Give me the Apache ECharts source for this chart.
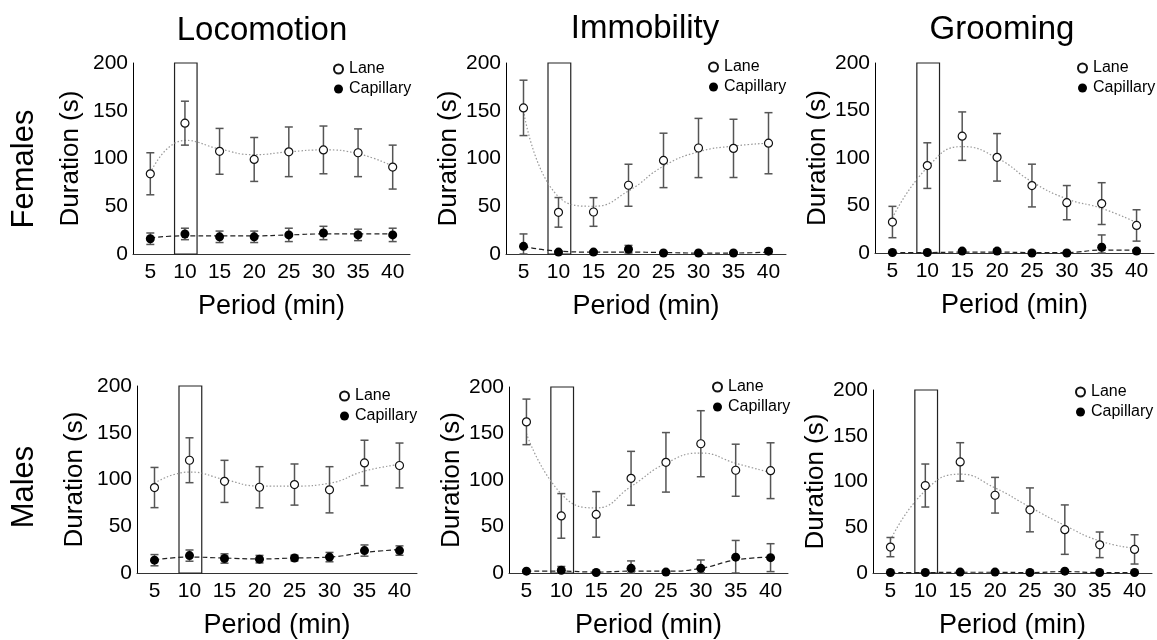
<!DOCTYPE html>
<html>
<head>
<meta charset="utf-8">
<script src="https://cdn.jsdelivr.net/npm/echarts@6/dist/echarts.min.js"></script>
<style>
html,body{margin:0;padding:0;background:#fff;}
#chart{width:1157px;height:640px;}
</style>
</head>
<body>
<div id="chart"></div>
<script>
// ---------- DATA ----------
const periods = [5, 10, 15, 20, 25, 30, 35, 40];
const xTicks = [5, 10, 15, 20, 25, 30, 35, 40];
const boxRange = [8.5, 11.75];
const panelTitles = ['Locomotion', 'Immobility', 'Grooming'];
const rowLabels = ['Females', 'Males'];

// Females - Locomotion
const fLocLane = [84, 137, 107.5, 99, 107, 109, 106, 91];
const fLocLaneErr = [22, 23, 24, 23, 26, 25, 25, 23];
const fLocLaneFit = [85, 119, 110, 104, 107, 109, 105, 92];
const fLocCap = [16, 21, 18, 18, 20, 22, 20, 20];
const fLocCapErr = [6, 6, 6, 6, 7, 7, 6, 7];
const fLocCapFit = [17, 19, 19, 19, 20, 21, 21, 21];

// Females - Immobility
const fImmLane = [153, 43.6, 44, 72, 98, 111, 110.6, 116];
const fImmLaneErr = [29, 15.5, 15, 22, 28.5, 31, 30.5, 32];
const fImmLaneFit = [150, 60, 50, 66, 92, 107, 113, 116];
const fImmCap = [8, 2, 2, 5, 1, 1, 1, 3];
const fImmCapErr = [13, 1, 1, 4, 1, 1, 1, 2];
const fImmCapFit = [8, 3, 2, 2, 1.5, 1, 1, 2];

// Females - Grooming
const fGroLane = [32.6, 92, 123, 100.7, 71, 53, 52, 29];
const fGroLaneErr = [16.5, 24, 25.5, 25, 22.5, 18, 22, 16.5];
const fGroLaneFit = [37, 90, 112, 100, 75, 57, 47, 32];
const fGroCap = [0.5, 0.5, 2, 2, 0, 0, 6, 2];
const fGroCapErr = [1, 1, 1, 2, 0.5, 0.5, 13, 1];
const fGroCapFit = [0.5, 0.5, 1, 1, 0.5, 0.5, 3, 3];

// Males - Locomotion
const mLocLane = [91.4, 120.6, 98, 91.7, 94.6, 89, 117.7, 115];
const mLocLaneErr = [21.5, 24, 22.5, 22, 22, 24.7, 24.3, 24];
const mLocLaneFit = [96, 108, 100, 93, 93, 96, 109, 116];
const mLocCap = [13.7, 18.6, 15.5, 14.8, 16, 17, 24, 24];
const mLocCapErr = [6, 6, 5, 4, 3, 5, 6, 5];
const mLocCapFit = [14, 17, 16, 15, 16, 17, 22, 25];

// Males - Immobility
const mImmLane = [162.5, 61.4, 63, 101.8, 119, 139, 110.5, 110];
const mImmLaneErr = [24.5, 24, 24.5, 29, 32, 35.5, 28, 30];
const mImmLaneFit = [150, 85, 70, 93, 118, 129, 118, 108];
const mImmCap = [2, 3, 0.5, 5, 1, 5, 17, 16.5];
const mImmCapErr = [1, 4, 0.5, 8, 1, 9, 18, 15];
const mImmCapFit = [2, 2, 1, 2, 2, 5, 14, 17];

// Males - Grooming
const mGroLane = [28.3, 95.6, 121.4, 85, 69, 47.4, 30.8, 25.8];
const mGroLaneErr = [10.5, 23.5, 21, 19.5, 24, 27, 14, 16];
const mGroLaneFit = [36, 90, 108, 93, 72, 52, 35, 27];
const mGroCap = [0.5, 0.5, 1, 1, 0.5, 2, 0.5, 0.5];
const mGroCapErr = [0.5, 0.5, 0.5, 1, 0.5, 1, 0.5, 0.5];
const mGroCapFit = [0.5, 0.5, 0.8, 0.8, 0.5, 1.5, 0.5, 0.5];

// ---------- LAYOUT ----------
const FONT = '"Liberation Sans", Arial, sans-serif';
const panels = [
  {grid:{left:133, top:63, width:277, height:191}, nameGap:49, legend:{left:328, top:56},
   d:[fLocLane,fLocLaneErr,fLocLaneFit,fLocCap,fLocCapErr,fLocCapFit]},
  {grid:{left:506, top:63, width:280, height:191}, nameGap:43, legend:{left:703, top:54},
   d:[fImmLane,fImmLaneErr,fImmLaneFit,fImmCap,fImmCapErr,fImmCapFit]},
  {grid:{left:875, top:63, width:279, height:190}, nameGap:43, legend:{left:1072, top:55},
   d:[fGroLane,fGroLaneErr,fGroLaneFit,fGroCap,fGroCapErr,fGroCapFit]},
  {grid:{left:137, top:386, width:280, height:189}, nameGap:49, legend:{left:334, top:383},
   d:[mLocLane,mLocLaneErr,mLocLaneFit,mLocCap,mLocCapErr,mLocCapFit]},
  {grid:{left:509, top:387, width:279, height:190}, nameGap:43, legend:{left:707, top:374},
   d:[mImmLane,mImmLaneErr,mImmLaneFit,mImmCap,mImmCapErr,mImmCapFit]},
  {grid:{left:873, top:390, width:279, height:188}, nameGap:42, legend:{left:1070, top:379},
   d:[mGroLane,mGroLaneErr,mGroLaneFit,mGroCap,mGroCapErr,mGroCapFit]}
];

function errRender(params, api) {
  const x = api.value(0), lo = api.value(1), hi = api.value(2);
  const pLo = api.coord([x, lo]), pHi = api.coord([x, hi]);
  const w = 4;
  const st = {stroke: '#555', lineWidth: 1.5};
  return {type:'group', children:[
    {type:'line', shape:{x1:pLo[0], y1:pLo[1], x2:pHi[0], y2:pHi[1]}, style:st},
    {type:'line', shape:{x1:pLo[0]-w, y1:pLo[1], x2:pLo[0]+w, y2:pLo[1]}, style:st},
    {type:'line', shape:{x1:pHi[0]-w, y1:pHi[1], x2:pHi[0]+w, y2:pHi[1]}, style:st}
  ]};
}

const grid = [], xAxis = [], yAxis = [], series = [], legend = [];
panels.forEach((p, i) => {
  grid.push(p.grid);
  xAxis.push({
    type:'value', gridIndex:i, min:2.5, max:42.5,
    name:'Period (min)', nameLocation:'middle', nameGap:39,
    nameTextStyle:{fontFamily:FONT, fontSize:27, color:'#000'},
    axisLine:{show:true, onZero:false, lineStyle:{color:'#333', width:1}},
    axisTick:{show:false}, splitLine:{show:false},
    axisLabel:{customValues:xTicks, fontFamily:FONT, fontSize:21, color:'#000', margin:8}
  });
  yAxis.push({
    type:'value', gridIndex:i, min:0, max:200, interval:50,
    name:'Duration (s)', nameLocation:'middle', nameGap:p.nameGap,
    nameTextStyle:{fontFamily:FONT, fontSize:26, color:'#000'},
    axisLine:{show:true, lineStyle:{color:'#000', width:1}},
    axisTick:{show:false}, splitLine:{show:false},
    axisLabel:{fontFamily:FONT, fontSize:21, color:'#000', margin:5}
  });
  const [lane, laneErr, laneFit, cap, capErr, capFit] = p.d;
  series.push({
    type:'line', xAxisIndex:i, yAxisIndex:i, smooth:0.5, symbol:'none', silent:true,
    data: periods.map((x,k)=>[x, laneFit[k]]),
    lineStyle:{color:'#999', width:1.2, type:[1.5,2]}, z:1,
    markArea:{silent:true, itemStyle:{color:'rgba(0,0,0,0)', borderColor:'#222', borderWidth:1.2},
      data:[[{xAxis:boxRange[0], yAxis:0},{xAxis:boxRange[1], yAxis:200}]]}
  });
  series.push({
    type:'line', xAxisIndex:i, yAxisIndex:i, smooth:0.5, symbol:'none', silent:true,
    data: periods.map((x,k)=>[x, capFit[k]]),
    lineStyle:{color:'#222', width:1.2, type:[5,3]}, z:1
  });
  series.push({
    type:'custom', xAxisIndex:i, yAxisIndex:i, renderItem:errRender, silent:true, z:2,
    data: periods.map((x,k)=>[x, Math.max(0, lane[k]-laneErr[k]), lane[k]+laneErr[k]])
  });
  series.push({
    type:'custom', xAxisIndex:i, yAxisIndex:i, renderItem:errRender, silent:true, z:2,
    data: periods.map((x,k)=>[x, Math.max(0, cap[k]-capErr[k]), cap[k]+capErr[k]])
  });
  series.push({
    name:'Lane', type:'scatter', xAxisIndex:i, yAxisIndex:i, symbol:'circle', symbolSize:8, z:3,
    itemStyle:{color:'#fff', borderColor:'#111', borderWidth:1.2, opacity:1},
    data: periods.map((x,k)=>[x, lane[k]])
  });
  series.push({
    name:'Capillary', type:'scatter', xAxisIndex:i, yAxisIndex:i, symbol:'circle', symbolSize:9, z:3,
    itemStyle:{color:'#000', opacity:1},
    data: periods.map((x,k)=>[x, cap[k]])
  });
  legend.push({
    left:p.legend.left, top:p.legend.top, orient:'vertical', itemGap:4,
    itemWidth:9, itemHeight:9, icon:'circle', selectedMode:false,
    textStyle:{fontFamily:FONT, fontSize:16, color:'#000', padding:[0,0,0,1]},
    data:['Lane','Capillary']
  });
});

const titleCenters = [[257, 9], [640, 7], [997, 8]];
const title = panelTitles.map((t, j) => ({
  text:t, left:titleCenters[j][0], top:titleCenters[j][1], textAlign:'center',
  textStyle:{fontFamily:FONT, fontSize:33, fontWeight:'normal', color:'#000'}
}));

const rowCenters = [[24, 169], [24, 487]];
const graphic = rowLabels.map((t, r) => ({
  type:'text', x:rowCenters[r][0], y:rowCenters[r][1], rotation:Math.PI/2,
  style:{text:t, font:'31px ' + FONT, fill:'#000', align:'center', verticalAlign:'middle'}
}));

const chart = echarts.init(document.getElementById('chart'));
chart.setOption({
  animation:false, backgroundColor:'#fff',
  title, grid, xAxis, yAxis, series, legend, graphic
});
</script>
</body>
</html>
